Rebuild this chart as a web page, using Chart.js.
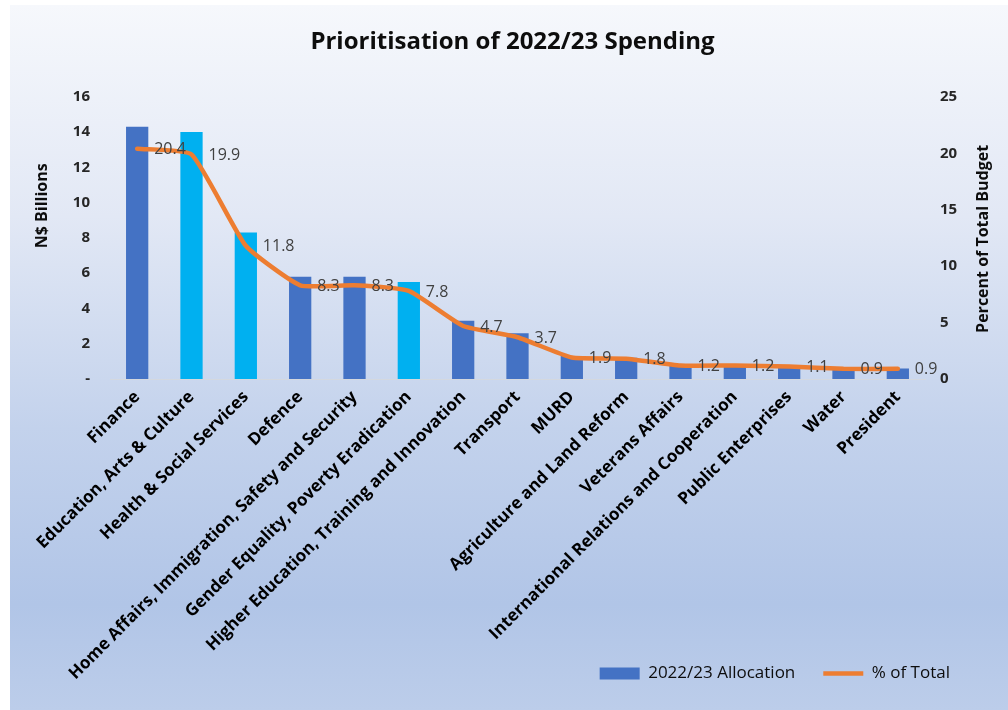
<!DOCTYPE html>
<html>
<head>
<meta charset="utf-8">
<script src="https://cdn.jsdelivr.net/npm/chart.js@4.4.1/dist/chart.umd.min.js"></script>
<style>
    html, body { margin: 0; padding: 0; background: #fff; }
    #wrap { width: 1008px; height: 710px; }
</style>
</head>
<body>
<div id="wrap"><canvas id="spendChart" width="1008" height="710"></canvas></div>
<script>
const categories = [
    'Finance',
    'Education, Arts & Culture',
    'Health & Social Services',
    'Defence',
    'Home Affairs, Immigration, Safety and Security',
    'Gender Equality, Poverty Eradication',
    'Higher Education, Training and Innovation',
    'Transport',
    'MURD',
    'Agriculture and Land Reform',
    'Veterans Affairs',
    'International Relations and Cooperation',
    'Public Enterprises',
    'Water',
    'President'
];
// N$ billions
const allocation = [14.3, 14.0, 8.3, 5.8, 5.8, 5.5, 3.3, 2.6, 1.3, 1.2, 0.8, 0.8, 0.7, 0.6, 0.6];
// percent of total budget
const shareOfTotal = [20.4, 19.9, 11.8, 8.3, 8.3, 7.8, 4.7, 3.7, 1.9, 1.8, 1.2, 1.2, 1.1, 0.9, 0.9];
// social sector votes shown in light blue
const socialVotes = ['Education, Arts & Culture', 'Health & Social Services', 'Gender Equality, Poverty Eradication'];

const leftTicks = [0, 2, 4, 6, 8, 10, 12, 14, 16];
const rightTicks = [0, 5, 10, 15, 20, 25];
const leftTitle = 'N$ Billions';
const rightTitle = 'Percent of Total Budget';

Chart.defaults.font.family = '"Open Sans", "Noto Sans", sans-serif';
Chart.defaults.color = '#262626';

const barColors = categories.map(c => socialVotes.includes(c) ? '#00B0F0' : '#4472C4');

// gradient panel behind the chart
const backdrop = {
    id: 'backdrop',
    beforeDraw(chart) {
        const { ctx, width, height } = chart;
        const g = ctx.createLinearGradient(0, 5, 0, height);
        g.addColorStop(0, '#f6f8fc');
        g.addColorStop(0.3, '#e2e8f5');
        g.addColorStop(0.6, '#c3d2ec');
        g.addColorStop(0.85, '#b1c5e7');
        g.addColorStop(1, '#bccdea');
        ctx.save();
        ctx.fillStyle = g;
        ctx.fillRect(10, 5, width - 10, height - 5);
        ctx.restore();
    }
};

// value labels to the right of each line point
const pointLabels = {
    id: 'pointLabels',
    afterDatasetsDraw(chart) {
        const meta = chart.getDatasetMeta(0);
        const ctx = chart.ctx;
        ctx.save();
        ctx.font = '16px "Open Sans"';
        ctx.fillStyle = '#404040';
        ctx.textAlign = 'left';
        ctx.textBaseline = 'middle';
        meta.data.forEach((pt, i) => {
            ctx.fillText(shareOfTotal[i].toFixed(1), pt.x + 17, pt.y + 1);
        });
        ctx.restore();
    }
};

// both axis titles read bottom-to-top, like Excel
const axisTitles = {
    id: 'axisTitles',
    afterDraw(chart) {
        const ctx = chart.ctx;
        const area = chart.chartArea;
        ctx.save();
        ctx.font = 'bold 16px "Open Sans"';
        ctx.fillStyle = '#0d0d0d';
        ctx.textAlign = 'center';
        ctx.textBaseline = 'middle';
        [[42, area.top + 109, leftTitle], [983, (area.top + area.bottom) / 2 + 1, rightTitle]].forEach(([x, y, t]) => {
            ctx.save();
            ctx.translate(x, y);
            ctx.rotate(-Math.PI / 2);
            ctx.fillText(t, 0, 0);
            ctx.restore();
        });
        ctx.restore();
    }
};

// legend row sits in from the right edge; long category labels may run
// down past the legend's top, so let the x axis clip at the canvas bottom
const layoutTweaks = {
    id: 'layoutTweaks',
    afterLayout(chart) {
        chart.legend.right -= 18;
        chart.scales.x.bottom = chart.height;
    }
};

const ctx = document.getElementById('spendChart').getContext('2d');

new Chart(ctx, {
    type: 'bar',
    data: {
        labels: categories,
        datasets: [{
            type: 'line',
            label: '% of Total',
            data: shareOfTotal,
            yAxisID: 'y1',
            borderColor: '#ED7D31',
            backgroundColor: '#ED7D31',
            borderWidth: 4.5,
            borderCapStyle: 'round',
            borderJoinStyle: 'round',
            pointRadius: 0,
            pointStyle: 'line',
            tension: 0.15
        }, {
            label: '2022/23 Allocation',
            data: allocation,
            yAxisID: 'y',
            backgroundColor: barColors,
            pointStyle: 'rect',
            barPercentage: 1,
            categoryPercentage: 0.41
        }]
    },
    options: {
        responsive: false,
        animation: false,
        layout: {
            padding: { left: 29, right: 12, top: 0, bottom: 18 }
        },
        plugins: {
            title: {
                display: true,
                text: 'Prioritisation of 2022/23 Spending',
                color: '#0d0d0d',
                font: { size: 24, weight: 'bold' },
                padding: { top: 28, bottom: 40 }
            },
            legend: {
                position: 'bottom',
                align: 'end',
                reverse: true,
                labels: {
                    usePointStyle: true,
                    pointStyleWidth: 40,
                    boxHeight: 12,
                    padding: 28,
                    color: '#0d0d0d',
                    font: { size: 17 }
                }
            },
            tooltip: { enabled: false }
        },
        scales: {
            x: {
                grid: { display: false, drawTicks: false },
                border: { color: 'rgba(217,217,217,0.7)' },
                ticks: {
                    autoSkip: false,
                    maxRotation: 45,
                    minRotation: 45,
                    padding: 8,
                    color: '#000',
                    font: { size: 17, weight: 'bold' }
                },
                afterFit(scale) { scale.height = 258; }
            },
            y: {
                position: 'left',
                min: 0,
                max: 16,
                afterBuildTicks(scale) { scale.ticks = leftTicks.map(v => ({ value: v })); },
                grid: { display: false, drawTicks: false },
                border: { display: false },
                ticks: {
                    padding: 20,
                    color: '#262626',
                    font: { size: 15, weight: 'bold' },
                    callback: v => v === 0 ? '-' : v
                },
                afterFit(scale) { scale.width = 81; }
            },
            y1: {
                position: 'right',
                min: 0,
                max: 25,
                afterBuildTicks(scale) { scale.ticks = rightTicks.map(v => ({ value: v })); },
                grid: { display: false, drawTicks: false },
                border: { display: false },
                ticks: {
                    padding: 15,
                    color: '#262626',
                    font: { size: 15, weight: 'bold' }
                },
                afterFit(scale) { scale.width = 71; }
            }
        }
    },
    plugins: [backdrop, pointLabels, axisTitles, layoutTweaks]
});
</script>
</body>
</html>
